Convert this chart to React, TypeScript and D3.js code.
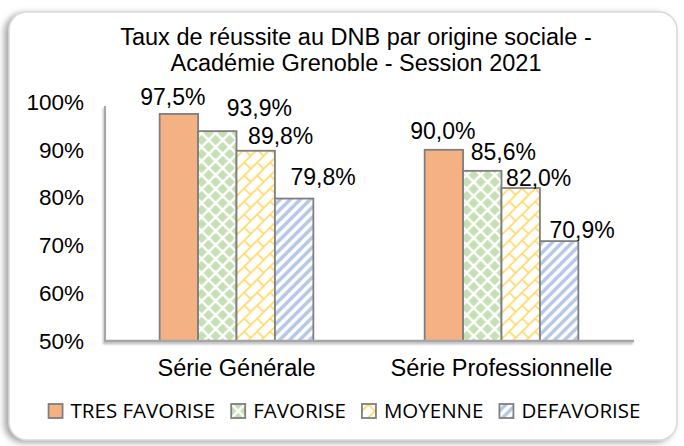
import React, { useEffect, useRef } from 'react';
import * as d3 from 'd3';

const categories = ['Série Générale', 'Série Professionnelle'];
const seriesNames = ['TRES FAVORISE', 'FAVORISE', 'MOYENNE', 'DEFAVORISE'];
const serieGenerale = [97.5, 93.9, 89.8, 79.8];
const serieProfessionnelle = [90.0, 85.6, 82.0, 70.9];
const yTicks = [50, 60, 70, 80, 90, 100];
const titleLines = ['Taux de réussite au DNB par origine sociale -', 'Académie Grenoble - Session 2021'];

// manual label nudges (dx, dy) as placed in the original chart
const labelNudge = [
  [[-6, -1], [42, -7], [25, 1], [29, -6]],
  [[-1, -3], [21, -3], [18, 6], [23, 5]],
];

const W = 684;
const H = 446;
const FONT = '"Liberation Sans", Arial, sans-serif';

const App = () => {
  const svgRef = useRef<SVGSVGElement>(null);

  useEffect(() => {
    const values = [serieGenerale, serieProfessionnelle];
    const svg = d3.select(svgRef.current);
    svg.selectAll('*').remove();
    svg.attr('width', W).attr('height', H);

    const defs = svg.append('defs');

    // shadow for frame
    const shadow = defs.append('filter').attr('id', 'frameShadow')
      .attr('x', '-5%').attr('y', '-5%').attr('width', '110%').attr('height', '110%');
    shadow.append('feDropShadow').attr('dx', -4).attr('dy', 2).attr('stdDeviation', 3)
      .attr('flood-color', '#808080').attr('flood-opacity', 0.7);

    const axisShadow = defs.append('filter').attr('id', 'axisShadow')
      .attr('x', '-5%').attr('y', '-50%').attr('width', '110%').attr('height', '200%');
    axisShadow.append('feDropShadow').attr('dx', -1).attr('dy', 2).attr('stdDeviation', 1.2)
      .attr('flood-color', '#888').attr('flood-opacity', 0.6);

    // green diamonds
    const pGreen = defs.append('pattern').attr('id', 'pGreen')
      .attr('patternUnits', 'userSpaceOnUse').attr('width', 14).attr('height', 14);
    pGreen.append('rect').attr('width', 14).attr('height', 14).attr('fill', '#fff');
    const dia = (cx: number, cy: number, r: number) => `M${cx},${cy - r}L${cx + r},${cy}L${cx},${cy + r}L${cx - r},${cy}Z`;
    [[0, 0], [14, 0], [0, 14], [14, 14], [7, 7]].forEach(([cx, cy]) => {
      pGreen.append('path').attr('d', dia(cx, cy, 5.2)).attr('fill', '#C5E0B4');
    });

    // yellow diagonal brick
    const pYellow = defs.append('pattern').attr('id', 'pYellow')
      .attr('patternUnits', 'userSpaceOnUse').attr('width', 13).attr('height', 13);
    pYellow.append('rect').attr('width', 13).attr('height', 13).attr('fill', '#fff');
    pYellow.append('path')
      .attr('d', 'M-1,14L14,-1M-1,1L1,-1M12,14L14,12M6.5,6.5L13,13')
      .attr('stroke', '#FFD966').attr('stroke-width', 1.6).attr('fill', 'none');

    // blue wide upward diagonal
    const pBlue = defs.append('pattern').attr('id', 'pBlue')
      .attr('patternUnits', 'userSpaceOnUse').attr('width', 10).attr('height', 10);
    pBlue.append('rect').attr('width', 10).attr('height', 10).attr('fill', '#fff');
    pBlue.append('path')
      .attr('d', 'M-2,12L12,-2M-2,2L2,-2M8,12L12,8')
      .attr('stroke', '#B4C7E7').attr('stroke-width', 3.4).attr('fill', 'none');

    const fills = ['#F4B183', 'url(#pGreen)', 'url(#pYellow)', 'url(#pBlue)'];

    // frame
    svg.append('rect')
      .attr('x', 9).attr('y', 12).attr('width', 668).attr('height', 428)
      .attr('rx', 18).attr('fill', '#fff')
      .attr('stroke', '#D9D9D9').attr('stroke-width', 1.5)
      .attr('filter', 'url(#frameShadow)');

    // title
    svg.append('g').selectAll('text').data(titleLines).join('text')
      .attr('x', 356).attr('y', (_, i) => 45 + i * 26)
      .attr('text-anchor', 'middle')
      .style('font-family', FONT)
      .style('font-size', '23.5px').attr('fill', '#000')
      .text(d => d);

    const x0 = d3.scaleBand().domain(categories).range([104, 634])
      .paddingInner(0.42).paddingOuter(0.21);
    const x1 = d3.scaleBand().domain(seriesNames).range([0, x0.bandwidth()]);
    const y = d3.scaleLinear().domain([50, 100]).range([341, 102]);

    // y labels
    svg.append('g').selectAll('text').data(yTicks).join('text')
      .attr('x', 84).attr('y', d => y(d)).attr('dy', '0.35em')
      .attr('text-anchor', 'end')
      .style('font-family', FONT)
      .style('font-size', '22.5px').attr('fill', '#000')
      .text(d => `${d}%`);

    // bars
    const groups = svg.append('g').selectAll('g').data(categories).join('g')
      .attr('transform', d => `translate(${x0(d)},0)`);

    groups.selectAll('rect')
      .data((c, ci) => seriesNames.map((s, si) => ({ s, si, ci, v: values[ci][si] })))
      .join('rect')
      .attr('x', d => x1(d.s)!)
      .attr('y', d => y(d.v))
      .attr('width', x1.bandwidth())
      .attr('height', d => y(50) - y(d.v))
      .attr('fill', d => fills[d.si])
      .attr('stroke', '#7F7F7F').attr('stroke-width', 1.8);

    groups.selectAll('text')
      .data((c, ci) => seriesNames.map((s, si) => ({ s, si, ci, v: values[ci][si] })))
      .join('text')
      .attr('x', d => x1(d.s)! + x1.bandwidth() / 2 + labelNudge[d.ci][d.si][0])
      .attr('y', d => y(d.v) - 8 + labelNudge[d.ci][d.si][1])
      .attr('text-anchor', 'middle')
      .style('font-family', FONT)
      .style('font-size', '23px').attr('fill', '#000')
      .text(d => d3.format('.1f')(d.v).replace('.', ',') + '%');

    // axes lines
    const axes = svg.append('g').attr('filter', 'url(#axisShadow)');
    axes.append('line').attr('x1', 105).attr('x2', 105).attr('y1', 106).attr('y2', 341)
      .attr('stroke', '#A6A6A6').attr('stroke-width', 2);
    axes.append('line').attr('x1', 104).attr('x2', 634).attr('y1', 341).attr('y2', 341)
      .attr('stroke', '#A6A6A6').attr('stroke-width', 2.5);

    // category labels
    svg.append('g').selectAll('text').data(categories).join('text')
      .attr('x', d => x0(d)! + x0.bandwidth() / 2).attr('y', 376)
      .attr('text-anchor', 'middle')
      .style('font-family', FONT)
      .style('font-size', '23.5px').attr('fill', '#000')
      .text(d => d);

    // legend
    const legend = svg.append('g');
    let lx = 0;
    seriesNames.forEach((s, i) => {
      const g = legend.append('g');
      g.append('rect').attr('x', 0).attr('y', -7).attr('width', 14).attr('height', 14)
        .attr('fill', fills[i]).attr('stroke', '#7F7F7F').attr('stroke-width', 1.8);
      const t = g.append('text').attr('x', 22).attr('y', 0).attr('dy', '0.36em')
        .style('font-family', '"Open Sans", "Noto Sans", sans-serif')
        .style('font-size', '20.5px').attr('fill', '#000')
        .text(s);
      g.attr('transform', `translate(${lx},0)`);
      const w = 22 + (t.node() as SVGTextElement).getComputedTextLength();
      lx += w + 16;
    });
    const totalW = lx - 16;
    legend.attr('transform', `translate(${344.5 - totalW / 2},411)`);
  }, []);

  return (
    <div style={{ position: 'absolute', left: 0, top: 0 }}>
      <svg ref={svgRef} style={{ display: 'block' }}></svg>
    </div>
  );
};

export default App;
